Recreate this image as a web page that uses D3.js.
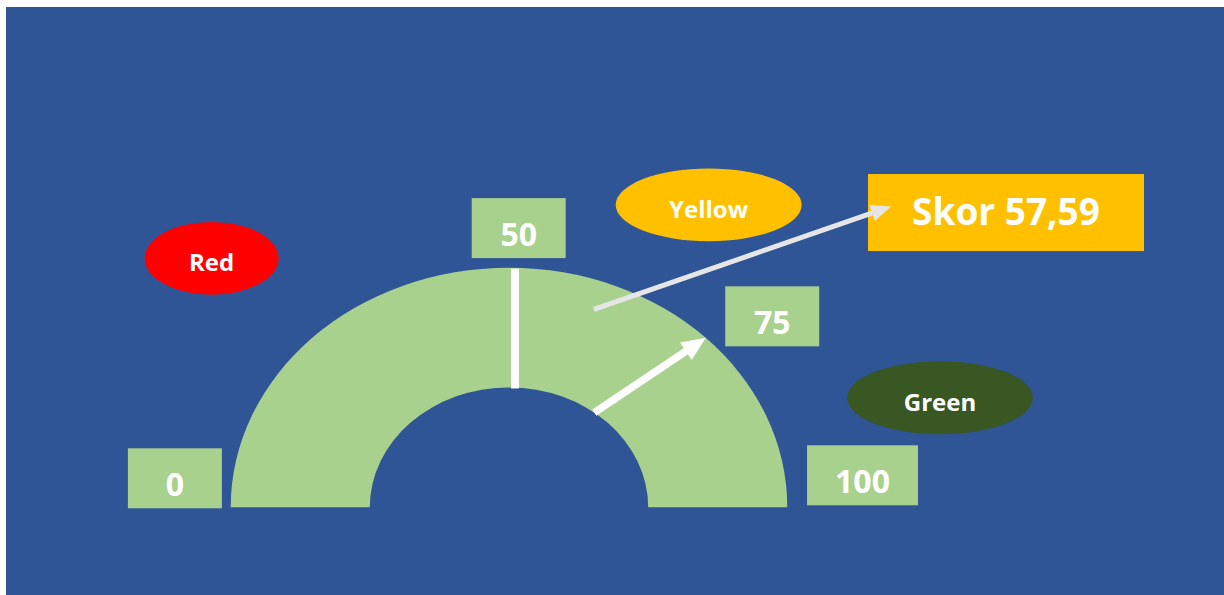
<!DOCTYPE html>
<html>
<head>
<meta charset="utf-8">
<script src="https://cdn.jsdelivr.net/npm/d3@7"></script>
<style>
  html, body { margin: 0; padding: 0; background: #ffffff; }
  svg { display: block; font-family: "Open Sans", "DejaVu Sans", sans-serif; }
</style>
</head>
<body>
<svg id="chart"></svg>
<script>
/* ============================================================
   Gauge – score 57,59
   ============================================================ */

// ─── Data ──────────────────────────────────────────────
const SCORE = 57.59;
const SCORE_LABEL = 'Skor 57,59';
const TICKS = [0, 50, 75, 100];
const ZONE_NAMES = ['Red', 'Yellow', 'Green'];
const ZONE_FROM = [0, 50, 75];
const ZONE_TO = [50, 75, 100];
const MIDLINE_VALUE = 50;
const POINTER_VALUE = 75;

// ─── Styles / layout ───────────────────────────────────
const BG = '#2f5597';
const BAND = '#a9d18e';
const ZONE_STYLE = {
  Red:    { fill: '#ff0000', rx: 67, nudge: [0, -15] },
  Yellow: { fill: '#ffc000', rx: 93, nudge: [11, 10] },
  Green:  { fill: '#385723', rx: 93, nudge: [1, 7] }
};
// small hand-placement tweaks for the tick label boxes
const TICK_NUDGE = { 0: [0, 0], 50: [-2, -7], 75: [7, 10], 100: [-4, -3] };

const W = 1224, H = 595;
const cx = 509, cy = 507.3;          // gauge centre
const R = 278.3, r = 139.2;          // outer / inner radius
const SQ = 0.861;                    // vertical squash of the gauge

const svg = d3.select('#chart').attr('width', W).attr('height', H);

svg.append('rect')
  .attr('x', 6).attr('y', 7)
  .attr('width', W - 6).attr('height', H - 7)
  .attr('fill', BG);

// value → angle (left = 0, top = 50, right = 100)
const angle = d3.scaleLinear().domain([0, 100]).range([-Math.PI / 2, Math.PI / 2]);

function polar(v, rx, ry, ox = 0, oy = 0) {
  const a = angle(v);
  return [cx + ox + rx * Math.sin(a), cy + oy - ry * Math.cos(a)];
}

function arrow(g, p1, p2, width, headLen, headW, color) {
  const dx = p2[0] - p1[0], dy = p2[1] - p1[1];
  const len = Math.hypot(dx, dy);
  const ux = dx / len, uy = dy / len;
  const bx = p2[0] - ux * headLen, by = p2[1] - uy * headLen;
  g.append('line')
    .attr('x1', p1[0]).attr('y1', p1[1])
    .attr('x2', bx + ux * 2).attr('y2', by + uy * 2)
    .attr('stroke', color).attr('stroke-width', width);
  g.append('path')
    .attr('d', `M${p2[0]},${p2[1]} L${bx - uy * headW / 2},${by + ux * headW / 2} L${bx + uy * headW / 2},${by - ux * headW / 2} Z`)
    .attr('fill', color);
}

// ─── Gauge band ────────────────────────────────────────
const arc = d3.arc();
svg.append('g')
  .attr('transform', `translate(${cx},${cy}) scale(1,${SQ})`)
  .append('path')
  .attr('d', arc({ innerRadius: r, outerRadius: R, startAngle: angle(0), endAngle: angle(100) }))
  .attr('fill', BAND);

// Midline marker
const m1 = polar(MIDLINE_VALUE, r, r * SQ), m2 = polar(MIDLINE_VALUE, R, R * SQ);
svg.append('line')
  .attr('x1', m1[0] + 6).attr('y1', m1[1] + 1)
  .attr('x2', m2[0] + 6).attr('y2', m2[1] + 1)
  .attr('stroke', '#ffffff').attr('stroke-width', 8);

// Pointer arrow across the band (tail sits a little before the pointer value)
arrow(svg, polar(POINTER_VALUE - 4, r, r * SQ), polar(POINTER_VALUE, R, R * SQ), 7.5, 24, 21, '#ffffff');

// ─── Tick labels ───────────────────────────────────────
const tickG = svg.append('g');
TICKS.forEach(t => {
  const n = TICK_NUDGE[t] || [0, 0];
  const [x, y] = polar(t, 345.8, 243.2, 11.7 + n[0], -29 + n[1]);
  const gg = tickG.append('g');
  const box = gg.append('rect');
  const txt = gg.append('text')
    .attr('x', x).attr('y', y + 17.7)
    .attr('text-anchor', 'middle')
    .attr('font-size', 32).attr('font-weight', 700)
    .attr('fill', '#ffffff')
    .text(t);
  const bw = Math.max(94, txt.node().getComputedTextLength() + 56);
  box.attr('x', x - bw / 2).attr('y', y - 30)
    .attr('width', bw).attr('height', 60)
    .attr('fill', BAND);
});

// ─── Zone labels ───────────────────────────────────────
const zoneG = svg.append('g');
ZONE_NAMES.forEach((name, i) => {
  const mid = (ZONE_FROM[i] + ZONE_TO[i]) / 2;
  const st = ZONE_STYLE[name];
  const [x, y] = polar(mid, 446, 362, 18 + st.nudge[0], 22 + st.nudge[1]);
  zoneG.append('ellipse')
    .attr('cx', x).attr('cy', y)
    .attr('rx', st.rx).attr('ry', 36.4)
    .attr('fill', st.fill);
  zoneG.append('text')
    .attr('x', x).attr('y', y + 13)
    .attr('text-anchor', 'middle')
    .attr('font-size', 24).attr('font-weight', 700)
    .attr('fill', '#ffffff')
    .text(name);
});

// ─── Score callout ─────────────────────────────────────
const box = { x: 868, y: 174, w: 276, h: 77 };
svg.append('rect')
  .attr('x', box.x).attr('y', box.y)
  .attr('width', box.w).attr('height', box.h)
  .attr('fill', '#ffc000');
svg.append('text')
  .attr('x', box.x + box.w / 2).attr('y', box.y + 51)
  .attr('text-anchor', 'middle')
  .attr('font-size', 37).attr('font-weight', 700)
  .attr('fill', '#ffffff')
  .text(SCORE_LABEL);

arrow(svg, polar(SCORE, 0.85 * R, 0.85 * R * SQ, 29, 0),
  [box.x + 23, box.y + box.h / 2 - 6], 5, 20, 17, '#e6e6e6');
</script>
</body>
</html>
